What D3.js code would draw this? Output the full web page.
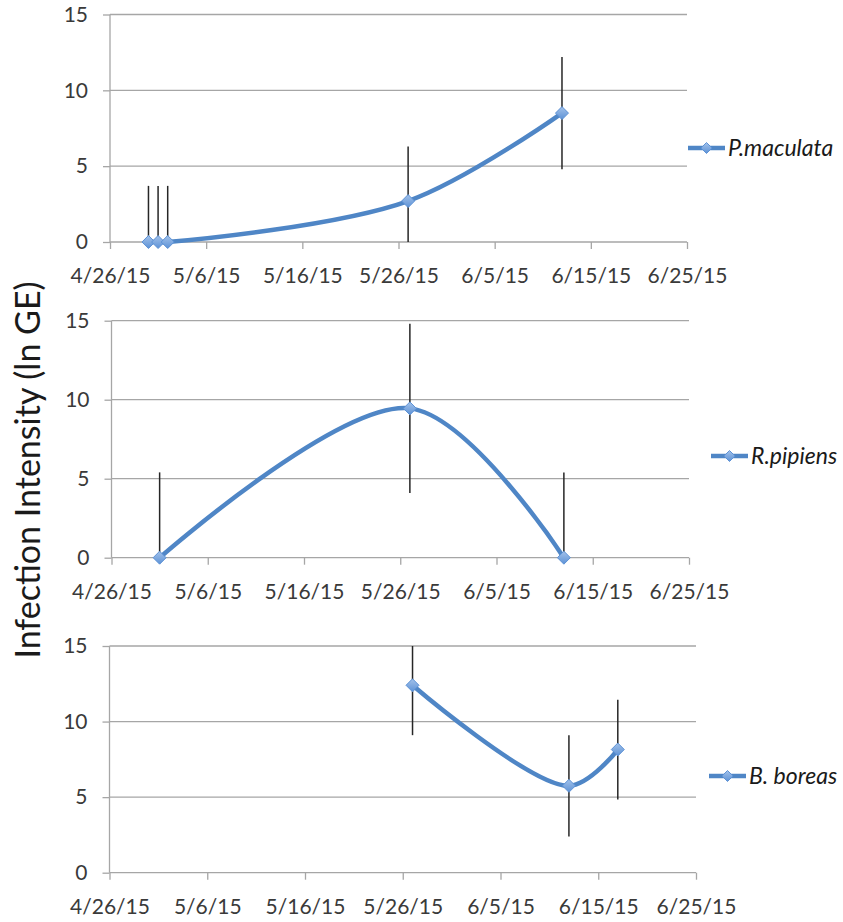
<!DOCTYPE html>
<html>
<head>
<meta charset="utf-8">
<script src="https://cdn.jsdelivr.net/npm/d3@7"></script>
<style>
  body { margin: 0; background: #fff; }
  svg { display: block; }
  .tick text { font-family: Lato, "Open Sans", sans-serif; font-size: 21px; fill: #3a3a3a; }
</style>
</head>
<body>
<script>
const svgWidth = 843; //Width of SVG.
const svgHeight = 922; //Height of SVG.

//Tick labels shared by the three panels.
const dateTicks = ["2015-04-26", "2015-05-06", "2015-05-16", "2015-05-26", "2015-06-05", "2015-06-15", "2015-06-25"];
const yTicks = [0, 5, 10, 15];

//P. maculata series.
const maculataDates = ["2015-04-30", "2015-05-01", "2015-05-02", "2015-05-27", "2015-06-12"];
const maculataValues = [0, 0, 0, 2.7, 8.5];
const maculataErrors = [3.7, 3.7, 3.7, 3.6, 3.7];

//R. pipiens series.
const pipiensDates = ["2015-05-01", "2015-05-27", "2015-06-12"];
const pipiensValues = [0, 9.45, 0];
const pipiensErrors = [5.4, 5.35, 5.4];

//B. boreas series.
const boreasDates = ["2015-05-27", "2015-06-12", "2015-06-17"];
const boreasValues = [12.4, 5.75, 8.15];
const boreasErrors = [3.3, 3.35, 3.3];

const seriesNames = ["P.maculata", "R.pipiens", "B. boreas"];

const parseDate = d3.utcParse("%Y-%m-%d");
const dateFormat = d3.utcFormat("%-m/%-d/%y"); //"4/26/15" style labels.

const lineColour = "#4f86c6";

//Panel frames (pixel layout only).
const panels = [
  {left: 110, right: 687, top: 14.5, bottom: 242, legendX: 688, legendY: 148,
   dates: maculataDates, values: maculataValues, errors: maculataErrors, name: seriesNames[0]},
  {left: 111.5, right: 689, top: 320.7, bottom: 557.7, legendX: 711, legendY: 456,
   dates: pipiensDates, values: pipiensValues, errors: pipiensErrors, name: seriesNames[1]},
  {left: 109.5, right: 696, top: 646, bottom: 872.7, legendX: 709, legendY: 776,
   dates: boreasDates, values: boreasValues, errors: boreasErrors, name: seriesNames[2]}
];

let svg = d3.select("body")
            .append("svg")
            .attr("width", svgWidth)
            .attr("height", svgHeight);

let defs = svg.append("defs");
let grad = defs.append("linearGradient") //Marker fill, light to dark blue.
               .attr("id", "markerFill")
               .attr("x1", 0).attr("y1", 0).attr("x2", 0).attr("y2", 1);
grad.append("stop").attr("offset", "0%").attr("stop-color", "#a3c2ea");
grad.append("stop").attr("offset", "100%").attr("stop-color", "#5d92d6");

const diamond = (s) => `M0,${-s}L${s},0L0,${s}L${-s},0Z`;

panels.forEach((p) => {
  let xScale = d3.scaleUtc()
                 .domain([parseDate(dateTicks[0]), parseDate(dateTicks[dateTicks.length - 1])])
                 .range([p.left, p.right]);
  let yScale = d3.scaleLinear()
                 .domain([0, 15])
                 .range([p.bottom, p.top]);

  let g = svg.append("g");

  //Horizontal gridlines.
  g.selectAll(".grid")
   .data(yTicks.filter((d) => d > 0))
   .enter()
   .append("line")
   .attr("x1", p.left)
   .attr("x2", p.right)
   .attr("y1", (d) => yScale(d))
   .attr("y2", (d) => yScale(d))
   .attr("stroke", "#a6a6a6")
   .attr("stroke-width", 1.3);

  //Y axis.
  let yAxis = d3.axisLeft(yScale)
                .tickValues(yTicks)
                .tickSize(7)
                .tickPadding(15)
                .tickFormat(d3.format("d"));
  let yg = g.append("g")
            .attr("transform", "translate(" + p.left + ",0)")
            .call(yAxis);
  yg.selectAll("path, line").attr("stroke", "#a6a6a6").attr("stroke-width", 1.3);
  yg.select(".domain").attr("d", `M0,${p.top}V${p.bottom}`);

  //X axis.
  let xAxis = d3.axisBottom(xScale)
                .tickValues(dateTicks.map(parseDate))
                .tickSize(7)
                .tickPadding(19)
                .tickFormat(dateFormat);
  let xg = g.append("g")
            .attr("transform", "translate(0," + p.bottom + ")")
            .call(xAxis);
  xg.selectAll("path, line").attr("stroke", "#a6a6a6").attr("stroke-width", 1.3);
  xg.select(".domain").attr("d", `M${p.left},0H${p.right}`);

  let pts = p.dates.map((d, i) => ({date: parseDate(d), value: p.values[i], err: p.errors[i]}));

  //Error bars, clipped to the axis range like Excel does.
  g.selectAll(".err")
   .data(pts)
   .enter()
   .append("line")
   .attr("x1", (d) => xScale(d.date))
   .attr("x2", (d) => xScale(d.date))
   .attr("y1", (d) => yScale(Math.min(15, d.value + d.err)))
   .attr("y2", (d) => yScale(Math.max(0, d.value - d.err)))
   .attr("stroke", "#262626")
   .attr("stroke-width", 1.5);

  //Smoothed series line.
  let line = d3.line()
               .x((d) => xScale(d.date))
               .y((d) => yScale(d.value))
               .curve(d3.curveCatmullRom.alpha(0.5));
  g.append("path")
   .datum(pts)
   .attr("d", line)
   .attr("fill", "none")
   .attr("stroke", lineColour)
   .attr("stroke-width", 4.5)
   .attr("stroke-linecap", "round");

  //Diamond markers.
  g.selectAll(".mark")
   .data(pts)
   .enter()
   .append("path")
   .attr("transform", (d) => "translate(" + xScale(d.date) + "," + yScale(d.value) + ")")
   .attr("d", diamond(6.5))
   .attr("fill", "url(#markerFill)")
   .attr("stroke", "#5d92d6")
   .attr("stroke-width", 1);

  //Legend entry.
  let lg = g.append("g").attr("transform", "translate(" + p.legendX + "," + p.legendY + ")");
  lg.append("line")
    .attr("x1", 0).attr("x2", 37)
    .attr("y1", 0).attr("y2", 0)
    .attr("stroke", lineColour)
    .attr("stroke-width", 4.5);
  lg.append("path")
    .attr("transform", "translate(18.5,0)")
    .attr("d", diamond(5.5))
    .attr("fill", "url(#markerFill)")
    .attr("stroke", "#5d92d6");
  lg.append("text")
    .attr("x", 40)
    .attr("y", 0)
    .attr("dy", "0.35em")
    .style("font-family", "Lato, 'Open Sans', sans-serif")
    .style("font-style", "italic")
    .style("font-size", "23px")
    .style("fill", "#1a1a1a")
    .text(p.name);
});

//Shared Y-axis title.
svg.append("text")
   .attr("transform", "translate(40,470) rotate(-90)")
   .attr("text-anchor", "middle")
   .style("font-family", "Lato, 'Open Sans', sans-serif")
   .style("font-size", "34px")
   .style("fill", "#1a1a1a")
   .text("Infection Intensity (ln GE)");
</script>
</body>
</html>
